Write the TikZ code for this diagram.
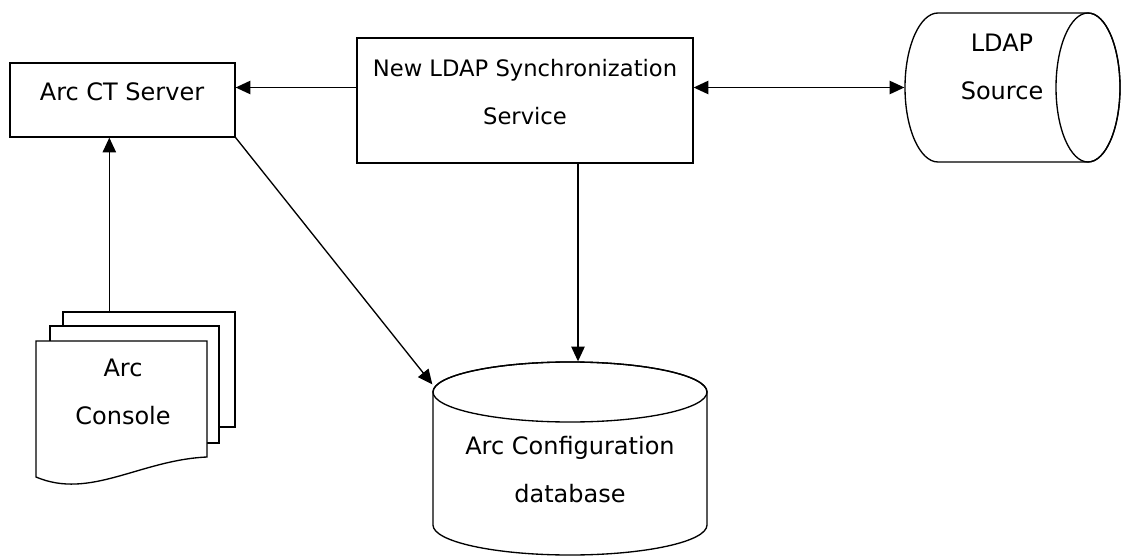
\documentclass[tikz,border=0pt]{standalone}
\usepackage{fontspec}
\setmainfont{DejaVu Sans}
\usetikzlibrary{arrows.meta}
\begin{document}
\begin{tikzpicture}[x=0.75pt,y=-0.75pt,>={Triangle[length=11pt,width=10pt]},line width=1pt,
		every node/.style={font=\fontsize{18}{36}\selectfont,align=center},
		box/.style={draw,rectangle,fill=white},
		frame/.style={rectangle,inner sep=0pt}]
			\useasboundingbox (0,0) rectangle (1121,556);
			\def\px{0.75pt}
			% boxes
			\node[box,minimum width=225*\px,minimum height=74*\px] (server) at (122.5,100) {};
			\node (servertext) at (122,92) {Arc CT Server};
			\node[box,minimum width=336*\px,minimum height=125*\px] (sync) at (525,100.5) {};
			\node[font=\fontsize{17}{36}\selectfont] (synctext) at (525,92) {New LDAP Synchronization\\Service};
			% LDAP source, lying cylinder
			\node[frame,minimum width=216*\px,minimum height=149*\px] (ldap) at (1013,87.5) {};
			\draw[fill=white] (938,13) -- (1088,13) arc[start angle=270,end angle=450,x radius=32,y radius=74.5]
			-- (938,162) arc[start angle=90,end angle=270,x radius=33,y radius=74.5] -- cycle;
			\draw (1088,87.5) ellipse [x radius=32,y radius=74.5];
			\node (ldaptext) at (1002,67) {LDAP\\Source};
			% configuration database
			\node[frame,minimum width=274*\px,minimum height=193*\px] (db) at (570,458.5) {};
			\draw[fill=white] (433,392) -- (433,525) arc[start angle=180,end angle=0,x radius=137,y radius=30]
			-- (707,392) arc[start angle=0,end angle=-180,x radius=137,y radius=30] -- cycle;
			\draw (570,392) ellipse [x radius=137,y radius=30];
			\node (dbtext) at (570,470) {Arc Configuration\\database};
			% console pages
			\node[box,minimum width=172*\px,minimum height=115*\px] (conback) at (149,369.5) {};
			\node[box,minimum width=169*\px,minimum height=117*\px] (conmid) at (134.5,384.5) {};
			\draw[fill=white] (36,341) -- (207,341) -- (207,457) .. controls (140,460) and (90,500) .. (36,477) -- cycle;
			\node (console) at (123,392) {Arc\\Console};
			% connectors
			\draw[->] (sync.west |- ldap.west) -- (server.east |- ldap.west);
			\draw[<->] (sync.east |- ldap.west) -- (ldap.west);
			\coordinate (dbin) at ([xshift=6pt]db.north);
			\draw[->] (dbin |- sync.south) -- (dbin);
			\coordinate (dbleft) at ([yshift=-23*\px]db.north west);
			\draw[->] (server.south east) -- (dbleft);
			\coordinate (contop) at ([xshift=47*\px]conback.north west);
			\draw[->] (contop) -- (contop |- server.south);
\end{tikzpicture}
\end{document}
